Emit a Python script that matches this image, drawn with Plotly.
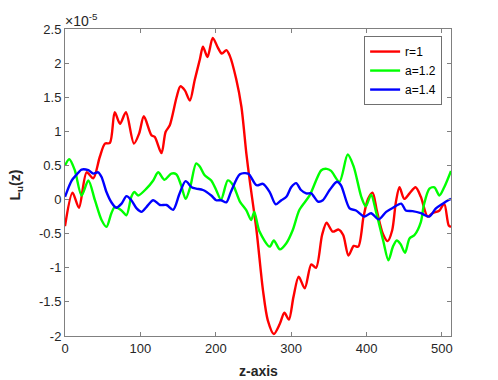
import plotly.graph_objects as go

# values are in units of 1e-5 (axis shows "x10^-5")
red_x = [0, 10, 18.5, 28.7, 37.5, 46, 53, 59.6, 66, 73, 80.8, 91.4, 98.4, 104.6, 114.8, 119, 128,
         133.4, 139, 148, 153, 159, 165.6, 172, 179, 183, 189, 196, 202.6, 208, 214, 218.5, 227,
         234, 240.6, 245, 254, 262.6, 269, 277, 285, 291, 297, 303, 310, 318, 326.7, 333, 341,
         347, 355, 363, 369, 376, 383, 389, 396, 402, 408, 413.6, 421.6, 428, 434, 439, 443.7,
         450, 457, 465, 472, 481, 487.6, 496.7, 503, 509, 512]
red_y = [-0.39, 0.1, -0.12, 0.4, 0.31, 0.62, 0.82, 0.83, 1.28, 1.11, 1.28, 0.82, 0.97, 1.22, 0.94,
         0.92, 0.68, 0.99, 1.09, 1.50, 1.66, 1.60, 1.45, 1.75, 2.06, 2.24, 2.09, 2.37, 2.23, 2.14,
         2.19, 2.11, 1.77, 1.36, 0.67, 0.28, -0.45, -1.33, -1.77, -1.97, -1.82, -1.66, -1.76, -1.43,
         -1.13, -1.30, -0.95, -1.0, -0.52, -0.34, -0.47, -0.44, -0.52, -0.82, -0.68, -0.69, -0.25,
         0.01, 0.1, -0.16, -0.50, -0.61, -0.45, -0.03, 0.18, 0.01, 0.09, 0.18, 0.04, -0.25, -0.20,
         -0.16, -0.06, -0.38, -0.40]

green_x = [0, 5.7, 13, 22, 31, 39.7, 48.5, 55, 61.5, 66, 75, 81.5, 88, 92, 97, 108, 117, 123.6,
           132, 141, 147.5, 154, 160, 166, 174, 179, 185, 194, 200.5, 207, 216, 223, 232, 240.6,
           247, 251, 258, 271.5, 277, 285, 293.6, 302, 311, 324.5, 340, 347, 353, 364, 375, 383,
           393, 399, 406, 412.6, 422, 429, 435, 440, 445, 451, 457, 463.6, 472, 476, 483.4, 490,
           496.7, 503, 512]
green_y = [0.5, 0.59, 0.43, 0.06, 0.28, -0.01, -0.3, -0.40, -0.2, -0.11, -0.16, -0.23, 0.04, 0.11,
           0.06, 0.16, 0.28, 0.40, 0.29, 0.38, 0.37, 0.21, 0.01, 0.18, 0.53, 0.48, 0.36, 0.28, 0.14,
           0.0, 0.28, 0.21, -0.03, -0.16, -0.30, -0.18, -0.47, -0.69, -0.6, -0.73, -0.64, -0.45,
           -0.15, 0.06, 0.43, 0.45, 0.42, 0.26, 0.66, 0.48, 0.04, -0.1, 0.07, -0.18, -0.6, -0.89,
           -0.69, -0.6, -0.65, -0.78, -0.57, -0.52, -0.33, -0.08, 0.16, 0.18, 0.06, 0.18, 0.42]

blue_x = [0, 9, 15, 22, 31, 37.5, 44, 48.5, 55, 61.5, 68, 75, 81.6, 88, 95, 101.5, 108, 117, 126,
          134.7, 143.4, 152, 160, 168, 174, 183, 194, 200.5, 207, 214, 220, 232, 243, 254, 262.6,
          271.5, 279.5, 287, 293.6, 300, 306.6, 313, 320, 326.6, 335.5, 342, 351, 360.7, 366,
          377.5, 386, 397, 406, 416, 426, 435, 446, 452, 461, 472, 483, 492, 501, 510, 512]
blue_y = [0.04, 0.28, 0.36, 0.44, 0.43, 0.38, 0.40, 0.33, 0.11, -0.04, -0.12, -0.06, 0.05, -0.01,
          -0.13, -0.18, -0.11, -0.01, -0.08, -0.08, -0.15, 0.09, 0.27, 0.18, 0.16, 0.14, 0.06,
          -0.01, -0.01, -0.04, 0.11, 0.37, 0.38, 0.21, 0.23, 0.11, -0.07, -0.01, 0.04, 0.18, 0.24,
          0.14, 0.09, 0.09, -0.03, -0.01, 0.14, 0.26, 0.21, -0.13, -0.16, -0.25, -0.2, -0.29, -0.18,
          -0.12, -0.06, -0.16, -0.17, -0.2, -0.25, -0.13, -0.06, 0.0, 0.01]

series = [("r=1", red_x, red_y, "#ff0000"),
          ("a=1.2", green_x, green_y, "#00ff00"),
          ("a=1.4", blue_x, blue_y, "#0000ff")]

y_ticks = [-2, -1.5, -1, -0.5, 0, 0.5, 1, 1.5, 2, 2.5]
y_ticktext = ["-2", "-1.5", "-1", "-0.5", "0", "0.5", "1", "1.5", "2", "2.5"]
x_ticks = [0, 100, 200, 300, 400, 500]

fig = go.Figure()
for name, xs, ys, col in series:
    fig.add_trace(go.Scatter(x=xs, y=ys, mode="lines", name=name,
                             line=dict(color=col, width=2.4, shape="spline", smoothing=0.8)))

axis_col = "#808080"
# page body has an 8px margin, so the figure is a bit smaller than the window
fig.update_layout(
    width=490, height=372,
    margin=dict(l=57, r=47, t=21, b=44),
    paper_bgcolor="white", plot_bgcolor="white",
    font=dict(family="Liberation Sans, Arial, sans-serif", size=13, color="#262626"),
    showlegend=True,
    legend=dict(x=0.977, y=0.977, xanchor="right", yanchor="top",
                bordercolor="#707070", borderwidth=1, bgcolor="white",
                font=dict(size=12, color="#000000"), tracegroupgap=0,
                itemwidth=30),
    xaxis=dict(range=[0, 512], tickvals=x_ticks, ticks="inside", ticklen=4,
               tickcolor=axis_col, showline=True, linecolor=axis_col, linewidth=1,
               mirror="ticks", showgrid=False, zeroline=False, automargin=False),
    yaxis=dict(range=[-2, 2.5], tickvals=y_ticks, ticktext=y_ticktext, ticks="inside", ticklen=4,
               tickcolor=axis_col, showline=True, linecolor=axis_col, linewidth=1,
               mirror="ticks", showgrid=False, zeroline=False, automargin=False),
)
# axis titles as annotations so they sit where the reference has them
fig.add_annotation(x=0.5, y=0, xref="paper", yref="paper", xanchor="center", yanchor="top",
                   text="<b>z-axis</b>", showarrow=False, font=dict(size=14, color="#262626"),
                   yshift=-25)
fig.add_annotation(x=0, y=0.49, xref="paper", yref="paper", xanchor="center", yanchor="middle",
                   text="<b>L<sub>u</sub>(z)</b>", textangle=-90, showarrow=False,
                   font=dict(size=14, color="#262626"), xshift=-49)
fig.add_annotation(x=0, y=1, xref="paper", yref="paper", xanchor="left", yanchor="bottom",
                   text="×10<sup>-5</sup>", showarrow=False, font=dict(size=14, color="#262626"),
                   xshift=-2, yshift=-2)

fig.write_html("out.html")
